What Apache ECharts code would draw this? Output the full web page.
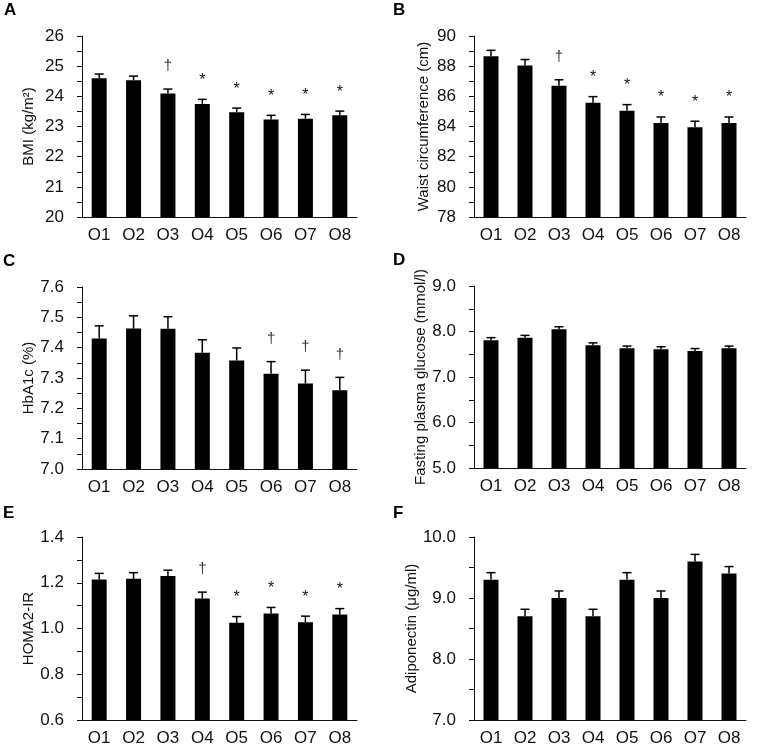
<!DOCTYPE html>
<html>
<head>
<meta charset="utf-8">
<script src="https://cdn.jsdelivr.net/npm/echarts@6/dist/echarts.min.js"></script>
<style>
html,body{margin:0;padding:0;background:#fff;}
#chart{width:759px;height:751px;}
</style>
</head>
<body>
<div id="chart"></div>
<script>
// ---- data ----
const categories = ['O1', 'O2', 'O3', 'O4', 'O5', 'O6', 'O7', 'O8'];

const bmiValues = [24.60, 24.53, 24.09, 23.75, 23.47, 23.23, 23.26, 23.37];
const bmiErrors = [0.14, 0.14, 0.15, 0.15, 0.14, 0.14, 0.14, 0.14];
const bmiMarks = ['', '', '†', '*', '*', '*', '*', '*'];

const waistValues = [88.65, 88.05, 86.70, 85.58, 85.05, 84.23, 83.95, 84.23];
const waistErrors = [0.40, 0.39, 0.40, 0.40, 0.40, 0.40, 0.40, 0.40];
const waistMarks = ['', '', '†', '*', '*', '*', '*', '*'];

const hba1cValues = [7.430, 7.463, 7.462, 7.383, 7.358, 7.314, 7.282, 7.260];
const hba1cErrors = [0.042, 0.042, 0.040, 0.043, 0.041, 0.040, 0.044, 0.042];
const hba1cMarks = ['', '', '', '', '', '†', '†', '†'];

const fpgValues = [7.81, 7.86, 8.05, 7.70, 7.63, 7.61, 7.57, 7.63];
const fpgErrors = [0.055, 0.055, 0.055, 0.05, 0.05, 0.055, 0.055, 0.05];
const fpgMarks = ['', '', '', '', '', '', '', ''];

const homaValues = [1.214, 1.217, 1.229, 1.131, 1.025, 1.066, 1.027, 1.061];
const homaErrors = [0.027, 0.027, 0.026, 0.028, 0.027, 0.026, 0.027, 0.026];
const homaMarks = ['', '', '', '†', '*', '*', '*', '*'];

const adipoValues = [9.30, 8.70, 9.00, 8.70, 9.30, 9.00, 9.60, 9.40];
const adipoErrors = [0.115, 0.115, 0.115, 0.115, 0.115, 0.115, 0.115, 0.115];
const adipoMarks = ['', '', '', '', '', '', '', ''];

const yTitles = ['BMI (kg/m²)', 'Waist circumference (cm)', 'HbA1c (%)', 'Fasting plasma glucose (mmol/l)', 'HOMA2-IR', 'Adiponectin (μg/ml)'];
const panelLetters = ['A', 'B', 'C', 'D', 'E', 'F'];
const yMins = [20, 78, 7.0, 5.0, 0.6, 7.0];
const yMaxs = [26, 90, 7.6, 9.0, 1.4, 10.0];
const yIntervals = [1, 2, 0.1, 1, 0.2, 1];
const yDecimals = [0, 0, 1, 1, 1, 1];

// ---- layout (not data) ----
const FONT = '"Liberation Sans", Arial, Helvetica, sans-serif';
const grids = [
  {left: 82, top: 36, width: 275, height: 181},
  {left: 474, top: 36, width: 272, height: 181},
  {left: 82, top: 287, width: 275, height: 182},
  {left: 474, top: 286, width: 272, height: 182},
  {left: 82, top: 537, width: 275, height: 183},
  {left: 474, top: 537, width: 272, height: 183}
];
const nameGaps = [46, 43, 46, 33, 46, 41];
const letterPos = [[4, 11], [393, 11], [3, 261.5], [393, 260.5], [3, 514], [393, 513.5]];

const panelValues = [bmiValues, waistValues, hba1cValues, fpgValues, homaValues, adipoValues];
const panelErrors = [bmiErrors, waistErrors, hba1cErrors, fpgErrors, homaErrors, adipoErrors];
const panelMarks = [bmiMarks, waistMarks, hba1cMarks, fpgMarks, homaMarks, adipoMarks];

const xAxes = [], yAxes = [], series = [], graphics = [];
for (let i = 0; i < 6; i++) {
  xAxes.push({
    type: 'category', gridIndex: i, data: categories, boundaryGap: true,
    axisLine: {show: true, lineStyle: {color: '#111', width: 1}},
    axisTick: {show: false},
    axisLabel: {fontSize: 17, fontFamily: FONT, color: '#111', margin: 10}
  });
  const dec = yDecimals[i];
  yAxes.push({
    type: 'value', gridIndex: i, min: yMins[i], max: yMaxs[i], interval: yIntervals[i],
    splitLine: {show: false},
    axisLine: {show: true, lineStyle: {color: '#111', width: 1}},
    axisTick: {show: true, inside: false, length: 5, lineStyle: {color: '#111'}},
    minorTick: {show: true, splitNumber: 2, length: 5, lineStyle: {color: '#111'}},
    axisLabel: {fontSize: 17, fontFamily: FONT, color: '#111', margin: 18,
      formatter: v => Number(v).toFixed(dec)},
    name: yTitles[i], nameLocation: 'middle', nameGap: nameGaps[i],
    nameTextStyle: {fontSize: 15, fontFamily: FONT, color: '#111'}
  });
  series.push({
    type: 'bar', xAxisIndex: i, yAxisIndex: i, data: panelValues[i],
    barWidth: 15, itemStyle: {color: '#000'}, silent: true
  });
  const marks = panelMarks[i];
  series.push({
    type: 'custom', xAxisIndex: i, yAxisIndex: i, silent: true, z: 5,
    encode: {x: 0, y: 1},
    data: panelValues[i].map((v, j) => [j, v, panelErrors[i][j]]),
    renderItem: function (params, api) {
      const x = api.value(0), v = api.value(1), e = api.value(2);
      const p0 = api.coord([x, v]);
      const p1 = api.coord([x, v + e]);
      const children = [
        {type: 'line', shape: {x1: p0[0], y1: p0[1], x2: p1[0], y2: p1[1]}, style: {stroke: '#000', lineWidth: 1.5}},
        {type: 'line', shape: {x1: p1[0] - 4.5, y1: p1[1], x2: p1[0] + 4.5, y2: p1[1]}, style: {stroke: '#000', lineWidth: 1.5}}
      ];
      const m = marks[params.dataIndex];
      if (m) {
        const isStar = m === '*';
        children.push({
          type: 'text', x: p1[0], y: p1[1] - (isStar ? 19 : 23),
          style: {text: m, align: 'center', verticalAlign: 'middle', fontSize: isStar ? 16 : 15, fontFamily: FONT, fill: isStar ? '#111' : '#333'}
        });
      }
      return {type: 'group', children: children};
    }
  });
  graphics.push({
    type: 'text', left: letterPos[i][0], top: letterPos[i][1] - 9,
    style: {text: panelLetters[i], fontSize: 17, fontWeight: 'bold', fontFamily: FONT, fill: '#000'}
  });
}

const chart = echarts.init(document.getElementById('chart'), null, {renderer: 'canvas'});
chart.setOption({
  animation: false,
  backgroundColor: '#fff',
  grid: grids.map(g => Object.assign({containLabel: false}, g)),
  xAxis: xAxes,
  yAxis: yAxes,
  series: series,
  graphic: graphics
});
</script>
</body>
</html>
